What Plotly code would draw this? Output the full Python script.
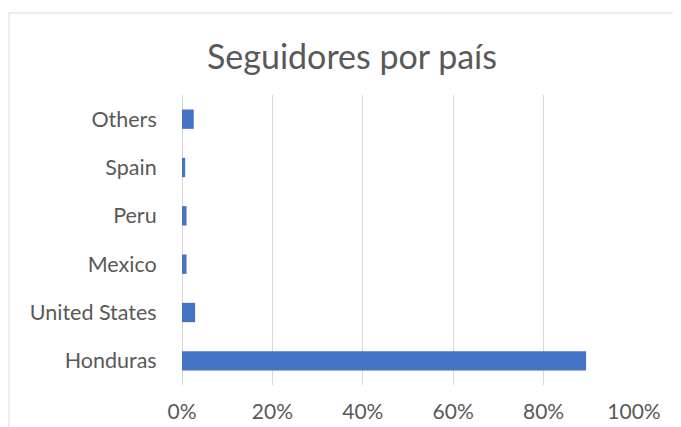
import plotly.graph_objects as go

categories = ["Honduras", "United States", "Mexico", "Peru", "Spain", "Others"]
values = [0.894, 0.029, 0.010, 0.010, 0.007, 0.026]
tick_vals = [0, 0.2, 0.4, 0.6, 0.8, 1.0]
tick_text = ["0%", "20%", "40%", "60%", "80%", "100%"]

# the page body adds an 8px offset, so figure coordinates are screen - 8;
# the figure is shrunk by that offset so it ends at the window edges
OFF = 8
W, H = 681 - OFF, 427 - OFF
L, T = 182 - OFF, 95 - OFF
R, B = W - (634 - OFF), H - (385 - OFF)
pw, ph = W - L - R, H - T - B

fig = go.Figure(go.Bar(
    x=values, y=categories, orientation="h",
    marker=dict(color="#4472C4", line=dict(width=0)),
))

fig.update_layout(
    width=W, height=H,
    margin=dict(l=L, r=R, t=T, b=B),
    paper_bgcolor="white", plot_bgcolor="white",
    bargap=0.6,
    showlegend=False,
    font=dict(family="Lato, Open Sans, sans-serif", color="#595959", size=21.5),
    title=dict(text="Seguidores por país", x=(352 - OFF) / W, xanchor="center",
               y=1 - (57 - OFF) / H, yanchor="middle",
               font=dict(size=34, color="#595959", family="Lato, Open Sans, sans-serif")),
    xaxis=dict(range=[0, 1], tickvals=tick_vals, ticktext=tick_text,
               tickfont=dict(size=21),
               showgrid=True, gridcolor="#d9d9d9", gridwidth=1,
               zeroline=False, showline=False, ticks="outside", ticklen=8,
               tickcolor="rgba(0,0,0,0)", fixedrange=True, automargin=False),
    yaxis=dict(categoryorder="array", categoryarray=categories,
               showgrid=False, zeroline=False, showline=False, automargin=False,
               ticks="outside", ticklen=20, tickcolor="rgba(0,0,0,0)"),
    shapes=[
        dict(type="line", xref="x", yref="paper", x0=0, x1=0, y0=0, y1=1,
             line=dict(color="#d9d9d9", width=2), layer="below"),
        dict(type="rect", xref="paper", yref="paper",
             x0=(9 - OFF - L) / pw, x1=(720 - L) / pw,
             y0=(H - B - 460) / ph, y1=(H - B - (13 - OFF)) / ph,
             line=dict(color="#d9d9d9", width=1), fillcolor="rgba(0,0,0,0)"),
    ],
)

fig.write_html("out.html")
